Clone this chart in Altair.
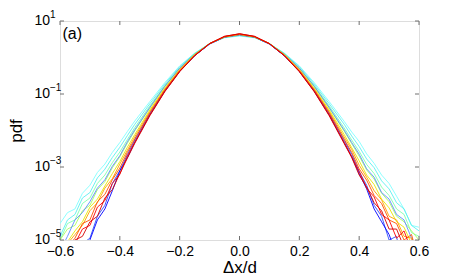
import altair as alt
import pandas as pd

# x positions (Δx/d) shared by all curves
X = [-0.6, -0.575, -0.55, -0.525, -0.5, -0.475, -0.45, -0.425, -0.4, -0.375, -0.35,
     -0.3, -0.25, -0.2, -0.15, -0.1, -0.05, 0.0, 0.05, 0.1, 0.15, 0.2, 0.25, 0.3,
     0.35, 0.375, 0.4, 0.425, 0.45, 0.475, 0.5, 0.525, 0.55, 0.575, 0.6]

# log10(pdf) per curve
cyan = [-4.55, -4.25, -4.15, -3.72, -3.5, -3.15, -2.92, -2.6, -2.33, -2.03, -1.74,
        -1.21, -0.69, -0.23, 0.12, 0.38, 0.54, 0.59, 0.54, 0.38, 0.12, -0.23, -0.69, -1.21,
        -1.75, -2.04, -2.30, -2.64, -2.9, -3.22, -3.45, -3.8, -4.15, -4.6, -4.65]
cyan2 = [-4.9, -4.45, -4.3, -3.85, -3.7, -3.3, -3.06, -2.74, -2.46, -2.14, -1.83,
         -1.27, -0.73, -0.25, 0.11, 0.38, 0.55, 0.60, 0.55, 0.38, 0.11, -0.25, -0.73, -1.27,
         -1.83, -2.15, -2.44, -2.78, -3.02, -3.38, -3.6, -3.98, -4.15, -4.6, -4.75]
aqua = [-5.0, -4.55, -4.45, -4.0, -3.85, -3.45, -3.22, -2.88, -2.59, -2.25, -1.92,
        -1.33, -0.77, -0.28, 0.10, 0.38, 0.55, 0.61, 0.55, 0.38, 0.10, -0.28, -0.77, -1.33,
        -1.93, -2.26, -2.57, -2.93, -3.18, -3.55, -3.78, -4.15, -4.3, -4.8, -4.9]
lgreen = [-5.0, -4.7, -4.6, -4.2, -4.05, -3.62, -3.4, -3.02, -2.72, -2.35, -2.01,
          -1.39, -0.80, -0.30, 0.09, 0.38, 0.56, 0.62, 0.56, 0.38, 0.09, -0.30, -0.80, -1.39,
          -2.02, -2.36, -2.70, -3.08, -3.33, -3.72, -3.95, -4.35, -4.5, -4.75, -5.0]
lblue = [-5.3, -4.9, -4.45, -4.25, -3.95, -3.58, -3.35, -2.98, -2.69, -2.31, -1.98,
         -1.37, -0.79, -0.29, 0.09, 0.38, 0.56, 0.61, 0.56, 0.38, 0.09, -0.29, -0.79, -1.37,
         -1.99, -2.33, -2.65, -3.05, -3.28, -3.7, -3.88, -4.3, -4.45, -4.95, -5.2]
blue2 = [-6.0, -6.0, -5.6, -5.1, -4.95, -4.35, -4.05, -3.45, -3.1, -2.66, -2.26,
         -1.53, -0.90, -0.37, 0.05, 0.37, 0.56, 0.63, 0.56, 0.37, 0.05, -0.37, -0.90, -1.53,
         -2.27, -2.65, -3.12, -3.5, -4.05, -4.35, -5.0, -4.9, -6.0, -6.0, -6.0]
blue1 = [-6.0, -6.0, -6.0, -5.5, -5.0, -4.45, -4.15, -3.65, -3.1, -2.75, -2.32,
         -1.57, -0.92, -0.38, 0.05, 0.37, 0.56, 0.63, 0.56, 0.37, 0.05, -0.38, -0.92, -1.57,
         -2.33, -2.72, -3.18, -3.6, -4.15, -4.5, -4.85, -5.4, -6.0, -6.0, -6.0]
yellow = [-5.4, -5.05, -4.75, -4.5, -4.1, -3.88, -3.52, -3.18, -2.85, -2.46, -2.11,
          -1.44, -0.84, -0.33, 0.08, 0.38, 0.56, 0.63, 0.56, 0.38, 0.08, -0.33, -0.84, -1.44,
          -2.11, -2.47, -2.83, -3.22, -3.48, -3.88, -4.12, -4.5, -4.65, -5.1, -5.3]
orange = [-5.5, -5.1, -4.85, -4.6, -4.2, -3.98, -3.58, -3.32, -2.92, -2.54, -2.17,
          -1.48, -0.87, -0.34, 0.07, 0.38, 0.57, 0.63, 0.57, 0.38, 0.07, -0.34, -0.87, -1.48,
          -2.18, -2.52, -2.95, -3.28, -3.65, -3.9, -4.35, -4.45, -4.9, -4.95, -5.5]
redorange = [-5.6, -5.2, -4.95, -4.55, -4.45, -3.95, -3.75, -3.35, -3.03, -2.6, -2.23,
             -1.52, -0.89, -0.36, 0.06, 0.38, 0.57, 0.64, 0.57, 0.38, 0.06, -0.36, -0.89, -1.52,
             -2.24, -2.6, -3.05, -3.36, -3.78, -4.0, -4.45, -4.55, -5.0, -4.85, -5.6]
red = [-5.8, -5.3, -5.1, -4.7, -4.6, -4.1, -3.92, -3.45, -3.2, -2.7, -2.32,
       -1.58, -0.93, -0.38, 0.05, 0.38, 0.58, 0.65, 0.58, 0.38, 0.05, -0.38, -0.93, -1.58,
       -2.33, -2.72, -3.12, -3.58, -3.82, -4.3, -4.45, -4.95, -4.75, -5.3, -5.7]
darkred = [-5.9, -5.5, -5.0, -4.9, -4.5, -4.35, -3.85, -3.62, -3.18, -2.76, -2.35,
           -1.60, -0.94, -0.39, 0.05, 0.38, 0.58, 0.65, 0.58, 0.38, 0.05, -0.39, -0.94, -1.60,
           -2.36, -2.74, -3.22, -3.55, -3.98, -4.2, -4.7, -4.7, -5.2, -5.0, -5.8]

series_names = ["cyan", "cyan2", "aqua", "lgreen", "lblue", "blue2", "blue1",
                "yellow", "orange", "redorange", "red", "darkred"]
series_values = [cyan, cyan2, aqua, lgreen, lblue, blue2, blue1,
                 yellow, orange, redorange, red, darkred]
series_colors = ["#80ffff", "#5cf0f0", "#80ffb0", "#a8ff60", "#5a8cff", "#3050ff", "#0000ff",
                 "#e8e800", "#ffa000", "#ff5000", "#ff0000", "#d40000"]

x_ticks = [-0.6, -0.4, -0.2, 0.0, 0.2, 0.4, 0.6]
y_ticks = [10, 0.1, 0.001, 0.00001]
y_exps = ["1", "\u22121", "\u22123", "\u22125"]

rows = []
for k, (name, vals) in enumerate(zip(series_names, series_values)):
    for xv, lv in zip(X, vals):
        rows.append({"series": name, "order": k, "x": xv, "pdf": 10 ** lv})
df = pd.DataFrame(rows)

W, H = 359, 219
FONT = "Liberation Sans"

xscale = alt.Scale(domain=[-0.6, 0.6], nice=False, zero=False)
yscale = alt.Scale(type="log", domain=[1e-5, 10], nice=False)

lines = alt.Chart(df).mark_line(strokeWidth=1, clip=True, opacity=0.9).encode(
    x=alt.X("x:Q", scale=xscale,
            axis=alt.Axis(values=x_ticks, ticks=False, tickSize=0, domain=False, grid=False,
                          labelFontSize=14, labelFont=FONT, labelColor="#000", labelPadding=4,
                          format=".1f", labelFlush=False,
                          title="\u0394x/d", titleFont=FONT, titleFontSize=17,
                          titleFontWeight="normal", titleColor="#000",
                          titleX=W / 2, titleY=32, titleBaseline="alphabetic")),
    y=alt.Y("pdf:Q", scale=yscale,
            axis=alt.Axis(values=y_ticks, labels=False, ticks=False, tickSize=0, domain=False,
                          grid=False, title="pdf", titleFont=FONT, titleFontSize=17,
                          titleFontWeight="normal", titleColor="#000", titleAngle=-90,
                          titleX=-44, titleY=H / 2, titleAlign="center",
                          titleBaseline="middle")),
    color=alt.Color("series:N", scale=alt.Scale(domain=series_names, range=series_colors),
                    legend=None),
    detail="series:N",
)

xt = pd.DataFrame({"v": x_ticks})
yt = pd.DataFrame({"v": y_ticks, "e": y_exps})
TC = "#707070"

bot = alt.Chart(xt).mark_rule(color=TC, strokeWidth=1).encode(
    x=alt.X("v:Q", scale=xscale), y=alt.value(H), y2=alt.value(H - 4))
top = alt.Chart(xt).mark_rule(color=TC, strokeWidth=1).encode(
    x=alt.X("v:Q", scale=xscale), y=alt.value(0), y2=alt.value(4))
lef = alt.Chart(yt).mark_rule(color=TC, strokeWidth=1).encode(
    y=alt.Y("v:Q", scale=yscale), x=alt.value(0), x2=alt.value(4))
rig = alt.Chart(yt).mark_rule(color=TC, strokeWidth=1).encode(
    y=alt.Y("v:Q", scale=yscale), x=alt.value(W), x2=alt.value(W - 4))

ylab = alt.Chart(yt).mark_text(align="right", baseline="middle", fontSize=14, font=FONT,
                               color="#000").encode(
    y=alt.Y("v:Q", scale=yscale), x=alt.value(-10), text=alt.value("10"))
yexp = alt.Chart(yt).mark_text(align="left", baseline="middle", fontSize=10, font=FONT,
                               color="#000", dy=-6).encode(
    y=alt.Y("v:Q", scale=yscale), x=alt.value(-10), text="e:N")

panel = alt.Chart(pd.DataFrame({"t": ["(a)"]})).mark_text(
    align="left", baseline="alphabetic", fontSize=16, font=FONT, color="#000").encode(
    x=alt.value(2.5), y=alt.value(17.5), text="t:N")

chart = alt.layer(lines, bot, top, lef, rig, ylab, yexp, panel).properties(
    width=W, height=H,
    autosize=alt.AutoSizeParams(type="none"),
    padding={"left": 52, "top": 13, "right": 36, "bottom": 36},
).configure_view(stroke="#707070", strokeWidth=1).configure(background="white")

chart.save("out.html", embed_options={"renderer": "svg", "actions": False})
